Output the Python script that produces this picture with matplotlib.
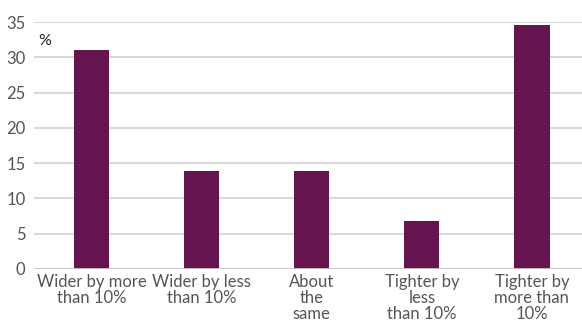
import numpy as np
import matplotlib.pyplot as plt

# data
categories = ["Wider by more\nthan 10%", "Wider by less\nthan 10%", "About\nthe\nsame",
              "Tighter by\nless\nthan 10%", "Tighter by\nmore than\n10%"]
values = [31.0, 13.9, 13.9, 6.8, 34.6]
yticks = [0, 5, 10, 15, 20, 25, 30, 35]

plt.rcParams['font.family'] = ['Lato', 'DejaVu Sans']

fig = plt.figure(figsize=(5.82, 3.24), dpi=100)
ax = fig.add_axes([0.058, 0.170, 0.942, 0.762])

x = np.arange(len(categories))
ax.bar(x, values, width=0.32, color="#661450", zorder=3)

ax.set_ylim(0, 35)
ax.set_xlim(-0.527, 4.455)
ax.set_yticks(yticks)
ax.set_xticks(x)
ax.set_xticklabels(categories, linespacing=1.0)
ax.tick_params(axis="both", length=0, labelsize=12, labelcolor="#555555")
ax.tick_params(axis="x", pad=4)
ax.tick_params(axis="y", pad=6)

ax.grid(axis="y", color="#d9d9d9", linewidth=1.5, zorder=0)
ax.axhline(0, color="#cccccc", linewidth=2, zorder=4)
for s in ax.spines.values():
    s.set_visible(False)

ax.text(0.008, 0.905, "%", transform=ax.transAxes, fontsize=11.5, color="#222222")

fig.savefig("out.png", dpi=100)
